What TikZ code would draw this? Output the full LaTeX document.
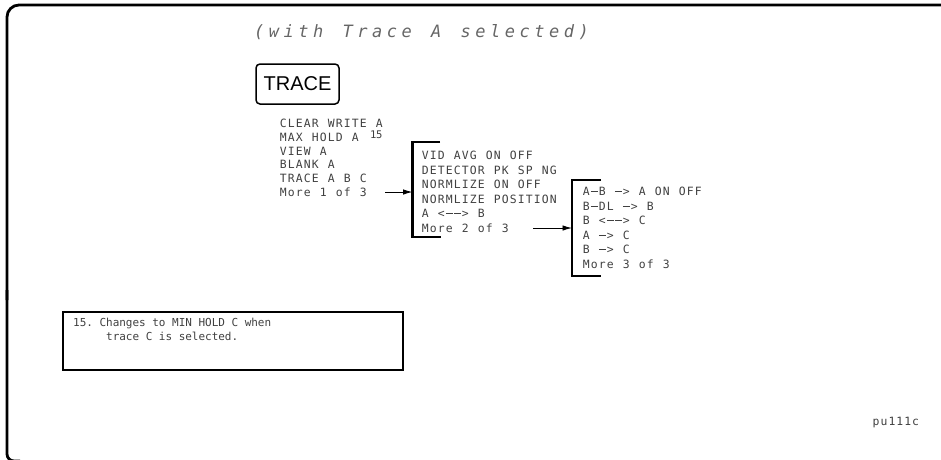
\documentclass[tikz,border=0pt]{standalone}
\usepackage{fontspec}
\usetikzlibrary{arrows.meta}
\setmainfont{Liberation Sans}
\newfontfamily\plotfont{DejaVu Sans Mono}
\ExplSyntaxOn
\dim_new:N \l__pf_pitch_dim
\NewDocumentCommand \pltext { O{8pt} m }
  {
    \dim_set:Nn \l__pf_pitch_dim {#1}
    \str_map_inline:nn {#2}
      {
        \str_if_eq:nnTF {##1} {-}
          { \makebox[\l__pf_pitch_dim][c]{ \rule[0.33em]{0.85\l__pf_pitch_dim}{0.075em} } }
          { \makebox[\l__pf_pitch_dim][c]{##1} }
      }
  }
\ExplSyntaxOff
\begin{document}
\begin{tikzpicture}[x=1pt,y=-1pt,
  frame/.style={line width=2.8pt},
  menuitem/.style={anchor=west, inner sep=0pt, text=black!75,
    font=\plotfont\fontsize{11.4}{13}\selectfont},
  smallitem/.style={anchor=west, inner sep=0pt, text=black!75,
    font=\plotfont\fontsize{10.5}{12}\selectfont},
  noteitem/.style={anchor=west, inner sep=0pt, text=black!75,
    font=\plotfont\fontsize{11}{13}\selectfont},
  bracket/.style={line width=2.4pt},
  arrowline/.style={line width=0.9pt, -{Latex[length=9.5pt,width=5.5pt]}},
  keybox/.style={draw, line width=1.5pt, rounded corners=4pt, inner sep=0pt,
    minimum width=83pt, minimum height=40pt, font=\fontsize{20}{22}\selectfont},
  notebox/.style={draw, line width=1.8pt, inner sep=0pt, anchor=north west,
    minimum width=340pt, minimum height=58pt}]
\useasboundingbox (0,0) rectangle (941,459);
% outer frame
\draw[frame, rounded corners=12pt] (945,5) -- (7,5) -- (7,300);
\draw[frame, rounded corners=7pt] (7,290) -- (7,461) -- (20,461);
% title
\node[anchor=west, inner sep=0pt, text=black!60,
  font=\plotfont\itshape\fontsize{17}{20}\selectfont] (title) at (251.6,32.5)
  {\pltext[14.75pt]{(with Trace A selected)}};
% key
\node[keybox] (trace) at (297.5,84) {TRACE};
% menu 1
\node[menuitem] (m1a) at (279,123.5) {\pltext{CLEAR WRITE A}};
\node[menuitem] (m1b) at (279,137.2) {\pltext{MAX HOLD A}};
\node[smallitem] (m1sup) at (370,135) {\pltext[6pt]{15}};
\node[menuitem] (m1c) at (279,150.9) {\pltext{VIEW A}};
\node[menuitem] (m1d) at (279,164.6) {\pltext{BLANK A}};
\node[menuitem] (m1e) at (279,178.3) {\pltext{TRACE A B C}};
\node[menuitem] (m1f) at (279,192) {\pltext{More 1 of 3}};
% bracket 2
\coordinate (b2t) at (412.5,142);
\coordinate (b2m) at (412.5,192);
\coordinate (b2b) at (412.5,237);
\draw[bracket] (440,142) -- (b2t) -- (b2b) -- (441,237);
\node[menuitem] (m2a) at (421,155.5) {\pltext{VID AVG ON OFF}};
\node[menuitem] (m2b) at (421,170) {\pltext{DETECTOR PK SP NG}};
\node[menuitem] (m2c) at (421,184.5) {\pltext{NORMLIZE ON OFF}};
\node[menuitem] (m2d) at (421,199) {\pltext{NORMLIZE POSITION}};
\node[menuitem] (m2e) at (421,213.5) {\pltext{A <--> B}};
\node[menuitem] (m2f) at (421,228) {\pltext{More 2 of 3}};
% bracket 3
\coordinate (b3t) at (572,180);
\coordinate (b3m) at (572,228);
\coordinate (b3b) at (572,276);
\draw[bracket] (601,180) -- (b3t) -- (b3b) -- (601,276);
\node[menuitem] (m3a) at (582,191.7) {\pltext{A-B -> A ON OFF}};
\node[menuitem] (m3b) at (582,206.2) {\pltext{B-DL -> B}};
\node[menuitem] (m3c) at (582,220.7) {\pltext{B <--> C}};
\node[menuitem] (m3d) at (582,235.2) {\pltext{A -> C}};
\node[menuitem] (m3e) at (582,249.7) {\pltext{B -> C}};
\node[menuitem] (m3f) at (582,264.2) {\pltext{More 3 of 3}};
% arrows
\draw[arrowline] (m1f.east) ++(18,0) -- (b2m);
\draw[arrowline] (m2f.east) ++(24,0) -- (b3m);
% note
\node[notebox] (note) at (62,311) {};
\node[noteitem] (n1) at (73,323.5) {\pltext[6.6pt]{15. Changes to MIN HOLD C when}};
\node[noteitem] (n2) at (106,336) {\pltext[6.6pt]{trace C is selected.}};
% figure id
\node[menuitem] (fid) at (872,423) {\pltext[7.9pt]{pu111c}};
\end{tikzpicture}
\end{document}
